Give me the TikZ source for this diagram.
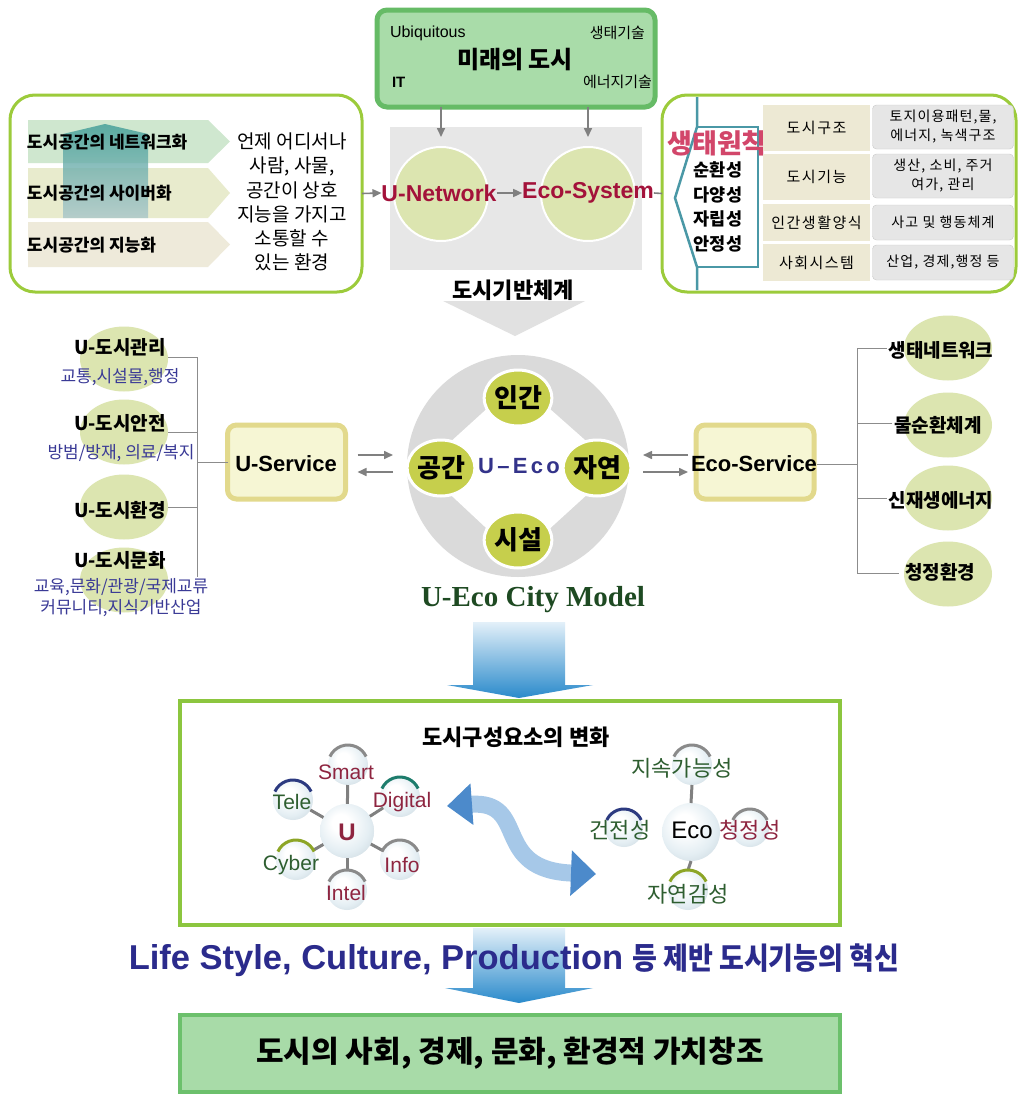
\documentclass[tikz,border=0pt]{standalone}
\usepackage{fontspec}
\usepackage{graphicx}
\setmainfont{Noto Sans CJK KR}
\newfontfamily\arialf{Liberation Sans}
\newfontfamily\serff{Liberation Serif}
\usetikzlibrary{arrows.meta,shapes.geometric,calc}
\newcommand\fz[2]{\fontsize{#1}{#2}\selectfont}
\definecolor{topfill}{HTML}{A9DCA9}
\definecolor{topbord}{HTML}{66BB66}
\definecolor{lgbord}{HTML}{9CCB3B}
\definecolor{graybg}{HTML}{E7E7E7}
\definecolor{olc}{HTML}{DCE5B0}
\definecolor{darkred}{HTML}{A3123A}
\definecolor{rowa}{HTML}{CFE7CF}
\definecolor{rowb}{HTML}{E8EBCD}
\definecolor{rowc}{HTML}{EEEADA}
\definecolor{tealA}{HTML}{3E9C96}
\definecolor{tealB}{HTML}{A9C6CA}
\definecolor{tealln}{HTML}{4A98A6}
\definecolor{ecored}{HTML}{D2466A}
\definecolor{tabl}{HTML}{EDE9D4}
\definecolor{tabr}{HTML}{E6E6E6}
\definecolor{tabrb}{HTML}{C9C9C9}
\definecolor{bigg}{HTML}{DADADA}
\definecolor{ygc}{HTML}{C6CF4C}
\definecolor{uecoc}{HTML}{33338A}
\definecolor{dgreen}{HTML}{1E4A22}
\definecolor{svcf}{HTML}{F6F6D4}
\definecolor{svcb}{HTML}{E2D98C}
\definecolor{bluet}{HTML}{3A3A96}
\definecolor{lineg}{HTML}{8C8C8C}
\definecolor{arrg}{HTML}{808080}
\definecolor{abA}{HTML}{E3F0F9}
\definecolor{abB}{HTML}{2A8ACB}
\definecolor{mgreen}{HTML}{8CC63F}
\definecolor{navyt}{HTML}{2B2B8C}
\definecolor{botf}{HTML}{A8DBA8}
\definecolor{botb}{HTML}{6CC06C}
\definecolor{cgreen}{HTML}{2E5E30}
\definecolor{cred}{HTML}{8E2540}
\definecolor{arcnavy}{HTML}{2C3A80}
\definecolor{arcteal}{HTML}{1D7C6C}
\definecolor{arcolive}{HTML}{8DA526}
\definecolor{arcgray}{HTML}{8A8A8A}
\definecolor{cbody}{HTML}{A6C8E8}
\definecolor{ctip}{HTML}{4C8ACB}
\definecolor{sphA}{HTML}{E4EEF3}
\definecolor{sphB}{HTML}{C2D0D8}
\definecolor{sphC}{HTML}{94A2AA}
\pgfdeclareradialshading{glass}{\pgfpoint{-7bp}{9bp}}{color(0bp)=(white); color(8bp)=(white); color(24bp)=(sphA); color(40bp)=(sphB); color(50bp)=(sphC)}
\tikzset{
  garrow/.style={draw=arrg, line width=1.6, -{Triangle[length=9pt,width=8pt]}},
  tline/.style={draw=lineg, line width=1},
  olcirc/.style={ellipse, fill=olc, minimum width=88, minimum height=65},
  svcbox/.style={draw=svcb, fill=svcf, line width=5, rounded corners=9, minimum width=118, minimum height=74},
  ballnode/.style={circle, shade, shading=glass, minimum size=#1},
  tabL/.style={fill=tabl, minimum width=107, font=\fz{15}{15}\addfontfeature{LetterSpace=10}},
  tabR/.style={fill=tabr, draw=tabrb, rounded corners=4, minimum width=141, align=center, font=\fz{14}{19}\addfontfeature{LetterSpace=8}},
  smallc/.style={ellipse, fill=ygc, draw=white, line width=3, minimum width=61, minimum height=56, font=\bfseries\fz{26}{26}},
  ltxt/.style={font=\bfseries\fz{19}{19}},
  btxt/.style={font=\fz{17}{17}, text=bluet},
  rtxt/.style={font=\bfseries\fz{19}{19}},
  sattxt/.style={font=\arialf\fz{21}{21}},
  ksat/.style={font=\fz{22}{22}},
}
\newcommand\sarc[3]{\draw[line width=3,#2] ($(#1.center)+(205:#3)$) arc[start angle=205,end angle=335,radius=#3];}
\begin{document}
\begin{tikzpicture}[x=1pt,y=-1pt, every node/.style={inner sep=0pt, outer sep=0pt}]
\useasboundingbox (0,0) rectangle (1021,1095);
\fill[white] (0,0) rectangle (1021,1095);

% ---------- top box
\node[draw=topbord, fill=topfill, line width=5, rounded corners=10, minimum width=278, minimum height=97] (top) at (516,58.5) {};
\node[anchor=west, font=\arialf\fz{16}{16}] (ubi) at (390,33) {Ubiquitous};
\node[anchor=east, font=\fz{15}{15}] (saeng) at (645,33) {생태기술};
\node[font=\bfseries\fz{24}{24}] (mirae) at (515,60) {미래의 도시};
\node[anchor=west, font=\arialf\bfseries\fz{15}{15}] (itt) at (392,82) {IT};
\node[anchor=east, font=\fz{15}{15}] (energy) at (652,82) {에너지기술};

% ---------- gray background and circles
\node[fill=graybg, minimum width=252, minimum height=143] (gbg) at (516,198.5) {};
\node[circle, fill=olc, draw=white, line width=2, minimum size=94] (cn) at (441,194) {};
\node[circle, fill=olc, draw=white, line width=2, minimum size=94] (ce) at (588,194) {};
\draw[garrow] (top.south -| cn.center) -- ($(cn.north)+(0,-10)$);
\draw[garrow] (top.south -| ce.center) -- ($(ce.north)+(0,-10)$);
\node[font=\arialf\bfseries\fz{23}{23}, text=darkred] (unet) at (439,193) {U-Network};
\node[font=\arialf\bfseries\fz{23}{23}, text=darkred] (esys) at (588,193) {Eco-System};

% ---------- left box
\node[draw=lgbord, line width=3, rounded corners=25, minimum width=352, minimum height=197] (lbox) at (186,193.5) {};
\fill[rowa] (28,120) -- (208,120) -- (230,141.5) -- (208,163) -- (28,163) -- cycle;
\fill[rowb] (28,168) -- (208,168) -- (230,193) -- (208,218) -- (28,218) -- cycle;
\fill[rowc] (28,222) -- (208,222) -- (230,244.5) -- (208,267) -- (28,267) -- cycle;
\shade[top color=tealA, bottom color=tealB, opacity=0.8] (63,218) -- (63,134) -- (105,124) -- (148,134) -- (148,218) -- cycle;
\node[anchor=west, font=\bfseries\fz{17}{17}] (la) at (27,142) {도시공간의 네트워크화};
\node[anchor=west, font=\bfseries\fz{17}{17}] (lb) at (27,193) {도시공간의 사이버화};
\node[anchor=west, font=\bfseries\fz{17}{17}] (lc) at (27,245) {도시공간의 지능화};
\node[align=center, font=\fz{19}{24.2}] (lpar) at (292,202) {언제 어디서나\\사람, 사물,\\공간이 상호\\지능을 가지고\\소통할 수\\있는 환경};
\draw[garrow] (lbox.east) -- (unet.west);
\draw[garrow] (unet.east) -- (esys.west);

% ---------- right box
\node[draw=lgbord, line width=3, rounded corners=25, minimum width=354, minimum height=197] (rbox) at (839,193.5) {};
\draw[draw=arrg, line width=1.6] (esys.east) -- (rbox.west);
\draw[tealln, line width=2.5] (697,97) -- (697,127) -- (675,198) -- (697,267) -- (697,290);
\draw[tealln, line width=2.5] (697,127) -- (758,127) -- (758,267) -- (697,267);
\node[font=\bfseries\fz{27}{27}, text=ecored] (ecop) at (717,143) {생태원칙};
\node[align=center, font=\bfseries\fz{17.5}{24.4}] (plist) at (718,207) {순환성\\다양성\\자립성\\안정성};
\node[tabL, minimum height=46] (ta) at (816.5,128) {도시구조};
\node[tabL, minimum height=46] (tb) at (816.5,177) {도시기능};
\node[tabL, minimum height=37] (tc) at (816.5,222.5) {인간생활양식};
\node[tabL, minimum height=37] (td) at (816.5,262.5) {사회시스템};
\node[tabR, minimum height=44] (ra) at (943,127) {토지이용패턴,물,\\에너지, 녹색구조};
\node[tabR, minimum height=44] (rb) at (943,176) {생산, 소비, 주거\\여가, 관리};
\node[tabR, minimum height=35] (rc) at (943,222.5) {사고 및 행동체계};
\node[tabR, minimum height=35] (rd) at (943,262.5) {산업, 경제,행정 등};

% ---------- base
\node[font=\bfseries\fz{22}{22}] (base) at (513,290) {도시기반체계};
\fill[bigg!80!white] (443,301) -- (585,301) -- (515,336) -- cycle;

% ---------- U-Eco circle
\node[circle, fill=bigg, minimum size=222] (big) at (518,466) {};
\coordinate (pIn) at (518,398);
\coordinate (pJa) at (597,468);
\coordinate (pSi) at (518,540);
\coordinate (pGo) at (441,468);
\draw[white, fill=white, line width=26, line join=round] (pIn) -- (pJa) -- (pSi) -- (pGo) -- cycle;
\node[smallc] (inc) at (pIn) {인간};
\node[smallc] (jac) at (pJa) {자연};
\node[smallc] (sic) at (pSi) {시설};
\node[smallc] (goc) at (pGo) {공간};
\node[font=\arialf\bfseries\fz{22}{22}\addfontfeature{LetterSpace=15}, text=uecoc] (ueco) at (519,466) {U–Eco};
\node[font=\serff\bfseries\fz{29}{29}, text=dgreen] (ucm) at (533,600) {U-Eco City Model};

% ---------- services
\node[svcbox] (us) at (286.5,462) {};
\node[font=\arialf\bfseries\fz{22}{22}] (ust) at (286,464) {U-Service};
\node[svcbox] (es) at (755,462) {};
\node[font=\arialf\bfseries\fz{22}{22}] (est) at (754,464) {Eco-Service};
\draw[garrow] ($(us.east)+(12,-7)$) -- ($(us.east -| big.west)+(-14,-7)$);
\draw[garrow] ($(us.east -| big.west)+(-14,10)$) -- ($(us.east)+(12,10)$);
\draw[garrow] ($(es.west)+(-8,-7)$) -- ($(es.west -| big.east)+(14,-7)$);
\draw[garrow] ($(es.west -| big.east)+(14,10)$) -- ($(es.west)+(-8,10)$);

% ---------- left tree
\node[olcirc] (lca) at (124,359) {};
\node[olcirc] (lcb) at (124,432) {};
\node[olcirc] (lcc) at (124,507) {};
\node[olcirc] (lcd) at (124,580) {};
\coordinate (ltk) at (197,0);
\draw[tline] ($(lca.east)+(0,-2)$) -- ($(lca.east -| ltk)+(0,-2)$) -- ($(lcd.east -| ltk)+(0,-3)$);
\draw[tline] (lcb.east) -- (lcb.east -| ltk);
\draw[tline] (lcc.east) -- (lcc.east -| ltk);
\draw[tline] (us.west) -- (us.west -| ltk);
\node[ltxt] (lta) at (120,347) {U-도시관리};
\node[btxt] (lsa) at (120,377) {교통,시설물,행정};
\node[ltxt] (ltb) at (120,423) {U-도시안전};
\node[btxt] (lsb) at (121,453) {방범/방재, 의료/복지};
\node[ltxt] (ltc) at (120,510) {U-도시환경};
\node[ltxt] (ltd) at (120,560) {U-도시문화};
\node[btxt] (lsd) at (121,587) {교육,문화/관광/국제교류};
\node[btxt] (lse) at (121,608) {커뮤니티,지식기반산업};

% ---------- right tree
\node[olcirc] (rca) at (948,348) {};
\node[olcirc] (rcb) at (948,425) {};
\node[olcirc] (rcc) at (948,498) {};
\node[olcirc] (rcd) at (948,574) {};
\node[rtxt] (rta) at (941,350) {생태네트워크};
\node[rtxt] (rtb) at (938,425) {물순환체계};
\node[rtxt] (rtc) at (941,500) {신재생에너지};
\node[rtxt] (rtd) at (940,572) {청정환경};
\coordinate (rtk) at (857,0);
\draw[tline] (est.east) -- (est.east -| rtk);
\draw[tline] ($(rta.west)+(-2,-2)$) -- ($(rta.west -| rtk)+(0,-2)$) -- ($(rtd.west -| rtk)+(0,1)$) -- ($(rtd.west)+(-6,1)$);
\draw[tline] ($(rtb.west)+(-2,-2)$) -- ($(rtb.west -| rtk)+(0,-2)$);
\draw[tline] ($(rtc.west)+(-2,-2)$) -- ($(rtc.west -| rtk)+(0,-2)$);

% ---------- blue arrow 1
\shade[top color=abA, bottom color=abB] (473,622) -- (565,622) -- (565,685) -- (593,685) -- (519,698) -- (447,685) -- (473,685) -- cycle;

% ---------- middle box
\node[draw=mgreen, line width=4, fill=white, minimum width=660, minimum height=224] (mbox) at (510,813) {};
\node[font=\bfseries\fz{22}{22}] (mtitle) at (516,737) {도시구성요소의 변화};

% U cluster
\node[ballnode=54] (uc) at (347,831) {};
\node[ballnode=40] (s1) at (348,765) {};
\node[ballnode=40] (s2) at (293,800) {};
\node[ballnode=40] (s3) at (400,797) {};
\node[ballnode=40] (s4) at (296,860) {};
\node[ballnode=40] (s5) at (400,860) {};
\node[ballnode=40] (s6) at (347,890) {};
\foreach \s in {s1,s2,s3,s4,s5,s6} {\draw[draw=arrg, line width=3] (uc) -- (\s);}
\node[ballnode=54] (uc2) at (uc) {};
\sarc{s1}{arcgray}{20}
\sarc{s2}{arcnavy}{20}
\sarc{s3}{arcteal}{20}
\sarc{s4}{arcolive}{20}
\sarc{s5}{arcgray}{20}
\sarc{s6}{arcgray}{20}
\node[font=\arialf\bfseries\fz{24}{24}, text=cred] (ut) at (347,832) {U};
\node[sattxt, text=cred] (t1) at (346,772) {Smart};
\node[sattxt, text=cgreen] (t2) at (292,802) {Tele};
\node[sattxt, text=cred] (t3) at (402,802) {Digital};
\node[sattxt, text=cgreen] (t4) at (291,865) {Cyber};
\node[sattxt, text=cred] (t5) at (402,865) {Info};
\node[sattxt, text=cred] (t6) at (346,893) {Intel};

% Eco cluster
\node[ballnode=40] (e1) at (692,765) {};
\node[ballnode=38] (e2) at (624,828) {};
\node[ballnode=38] (e3) at (750,828) {};
\node[ballnode=40] (e4) at (688,890) {};
\node[ballnode=58] (ec) at (691,832) {};
\draw[draw=arrg, line width=3] (ec.north) -- (e1.south);
\draw[draw=arrg, line width=3] (ec.south) -- (e4.north);
\sarc{e1}{arcgray}{20}
\sarc{e2}{arcnavy}{19}
\sarc{e3}{arcgray}{19}
\sarc{e4}{arcolive}{20}
\node[font=\arialf\fz{24}{24}] (ect) at (692,830) {Eco};
\node[ksat, text=cgreen] (k1) at (682,768) {지속가능성};
\node[ksat, text=cgreen] (k2) at (620,830) {건전성};
\node[ksat, text=cred] (k3) at (750,830) {청정성};
\node[ksat, text=cgreen] (k4) at (688,894) {자연감성};

% curved double arrow
\draw[draw=cbody, line width=17, {Triangle[length=25pt,width=40pt,color=ctip,fill=ctip]}-{Triangle[length=25pt,width=44pt,color=ctip,fill=ctip]}] (447,806) .. controls (530,800) and (490,870) .. (596,874);

% ---------- blue arrow 2 and slogan
\shade[top color=abA, bottom color=abB] (473,928) -- (565,928) -- (565,988) -- (593,988) -- (519,1003) -- (445,988) -- (473,988) -- cycle;
\node[text=navyt] (life) at (514,960) {{\arialf\bfseries\fz{34.5}{34}Life Style, Culture, Production}\hspace{9pt}{\bfseries\fz{27}{27}\scalebox{1}[1.12]{등 제반 도시기능의 혁신}}};

% ---------- bottom box
\node[draw=botb, fill=botf, line width=4, minimum width=660, minimum height=77, font=\bfseries\fz{30}{30}] (bot) at (510,1053) {도시의 사회, 경제, 문화, 환경적 가치창조};
\end{tikzpicture}
\end{document}
